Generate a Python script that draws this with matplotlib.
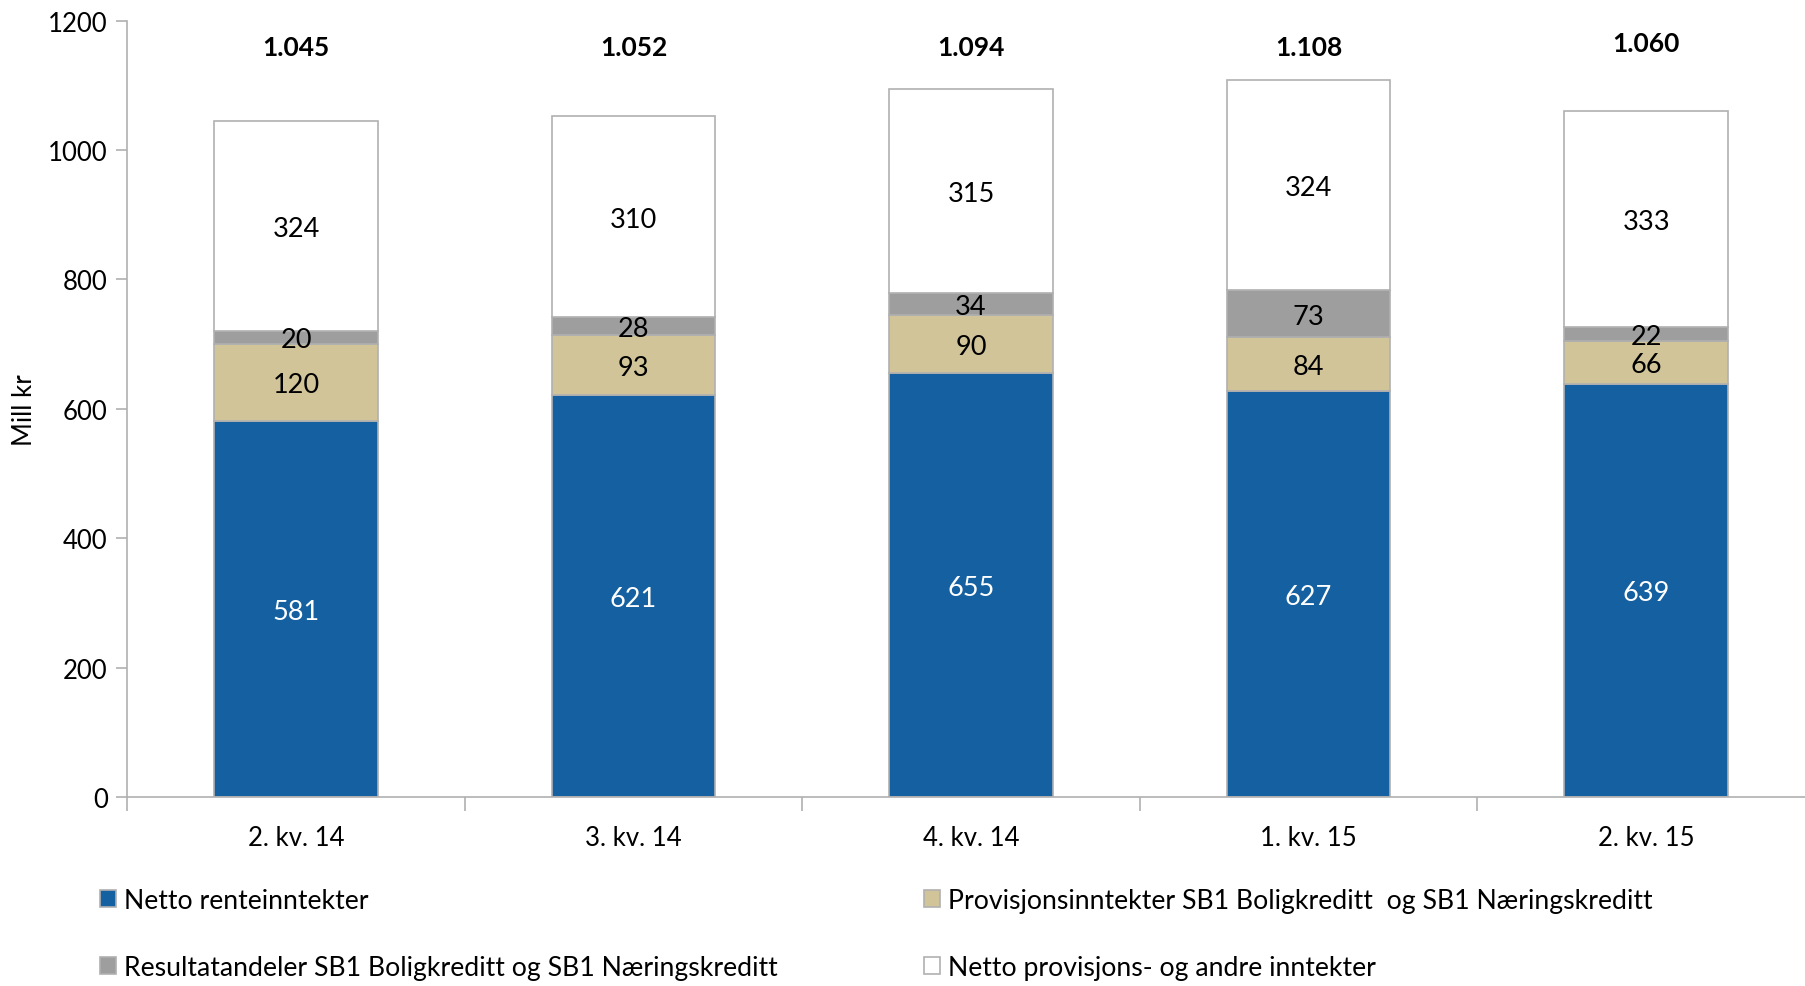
import matplotlib.pyplot as plt
import numpy as np

plt.rcParams["font.family"] = ["Lato", "DejaVu Sans"]

quarters = ["2. kv. 14", "3. kv. 14", "4. kv. 14", "1. kv. 15", "2. kv. 15"]
renter = [581, 621, 655, 627, 639]
provisjon_sb1 = [120, 93, 90, 84, 66]
resultatandeler = [20, 28, 34, 73, 22]
netto_provisjon = [324, 310, 315, 324, 333]
totals = ["1.045", "1.052", "1.094", "1.108", "1.060"]
total_label_y = [1160, 1160, 1160, 1160, 1165]

series = [
    ("Netto renteinntekter", renter, "#1560a0", "white"),
    ("Provisjonsinntekter SB1 Boligkreditt  og SB1 Næringskreditt", provisjon_sb1, "#d1c498", "black"),
    ("Resultatandeler SB1 Boligkreditt og SB1 Næringskreditt", resultatandeler, "#9e9e9e", "black"),
    ("Netto provisjons- og andre inntekter", netto_provisjon, "white", "black"),
]

GRID = "#b0b0b0"

fig = plt.figure(figsize=(18.05, 9.87), dpi=100)
# axes run slightly past the right edge of the figure, as in the original
ax = fig.add_axes([0.0705, 0.1915, 0.935, 0.7865])

x = np.arange(len(quarters))
bottom = np.zeros(len(quarters))
handles = {}
for label, vals, color, txt in series:
    vals = np.array(vals, dtype=float)
    bars = ax.bar(x, vals, 0.485, bottom=bottom, color=color, edgecolor=GRID, linewidth=1.2, label=label)
    handles[label] = bars
    for xi, b, v in zip(x, bottom, vals):
        ax.text(xi, b + v / 2 - 4, f"{v:.0f}", ha="center", va="center", fontsize=19.5, color=txt)
    bottom += vals

for xi, lbl, ly in zip(x, totals, total_label_y):
    ax.text(xi, ly, lbl, ha="center", va="center", fontsize=19, fontweight="bold")

ax.set_xlim(-0.5, len(quarters) - 0.5)
ax.set_ylim(0, 1200)
ax.set_yticks(range(0, 1201, 200))
ax.set_xticks(x)
ax.set_xticklabels(quarters)
ax.set_xticks(np.arange(-0.5, len(quarters)), minor=True)
ax.tick_params(axis="x", which="major", length=0, pad=20, labelsize=18.5)
ax.tick_params(axis="x", which="minor", length=10, color=GRID, width=1.2)
ax.tick_params(axis="y", length=8, color=GRID, width=1.2, labelsize=18.5, pad=6)
ax.set_ylabel("Mill kr", fontsize=18.5, labelpad=8)

for side in ["top", "right"]:
    ax.spines[side].set_visible(False)
for side in ["left", "bottom"]:
    ax.spines[side].set_color(GRID)
    ax.spines[side].set_linewidth(1.2)

order = [series[0][0], series[2][0], series[1][0], series[3][0]]
leg = fig.legend([handles[k] for k in order], order, loc="upper left", bbox_to_anchor=(0.042, 0.124),
                 ncol=2, frameon=False, fontsize=19.2, handlelength=0.6, handleheight=0.6,
                 handletextpad=0.3, columnspacing=5.5, labelspacing=1.6)

fig.savefig("out.png", dpi=100, facecolor="white")
